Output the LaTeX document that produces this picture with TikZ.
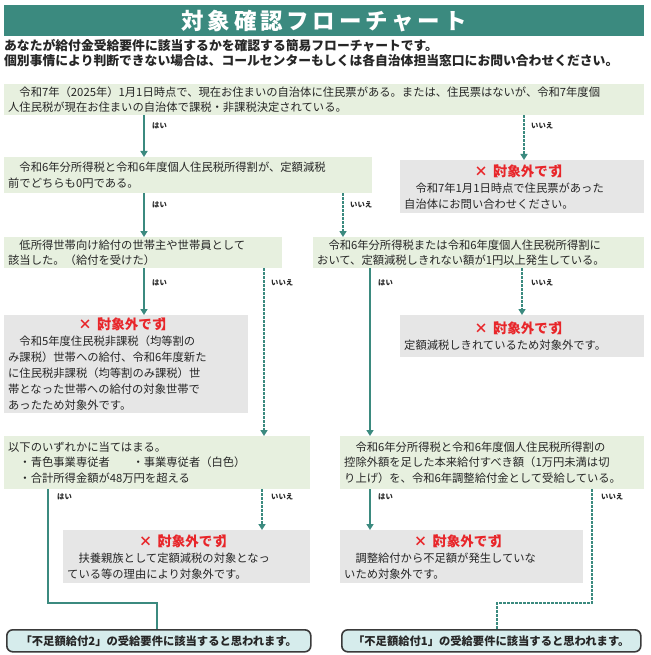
\documentclass[tikz,border=0pt]{standalone}
\usepackage{fontspec}
\setmainfont{Noto Sans CJK JP}
\usetikzlibrary{arrows.meta}
\definecolor{teal1}{HTML}{3B8A7F}
\definecolor{boxg}{HTML}{E7F0DF}
\definecolor{boxgray}{HTML}{E6E6E6}
\definecolor{ngred}{HTML}{E8262A}
\definecolor{endfill}{HTML}{D6ECEC}
\definecolor{endline}{HTML}{3A3A3A}
\newcommand{\ngt}{{\color{ngred}\fontsize{13.5}{17}\selectfont\bfseries ×\kern-0.2em【\kern-0.35em対象外です\kern-0.35em】}}
\begin{document}
\begin{tikzpicture}[x=1pt,y=-1pt,
  every node/.style={font=\fontsize{11.3}{15.2}\selectfont, text=black!85},
  qbox/.style={fill=boxg, anchor=north west, inner xsep=4pt, inner ysep=1pt},
  ngbox/.style={fill=boxgray, anchor=north west, inner xsep=4pt, inner ysep=1pt, font=\fontsize{11.3}{16}\selectfont},
  endbox/.style={fill=endfill, draw=endline, line width=1.6pt, rounded corners=6pt, anchor=north west, font=\fontsize{11.3}{12}\selectfont\bfseries, minimum height=22pt, inner sep=0pt},
  yes/.style={draw=teal1, line width=1.8pt, -{Triangle[width=7pt,length=6pt]}},
  no/.style={draw=teal1, line width=1.8pt, dash pattern=on 2.5pt off 1.5pt, -{Triangle[width=7pt,length=6pt]}},
  lab/.style={font=\fontsize{7.3}{9}\selectfont\bfseries, anchor=west, inner sep=1pt}]
\useasboundingbox (0,0) rectangle (650,655);
\fill[white] (0,0) rectangle (650,655);
% title
\node[fill=teal1, anchor=north west, minimum width=640pt, minimum height=31pt, inner sep=0pt, text=white, font=\fontsize{22.5}{24}\selectfont\bfseries] (title) at (4,5) {対\,象\,確\,認\,フ\,ロ\,ー\,チ\,ャ\,ー\,ト};
\node[anchor=north west, inner sep=0pt, font=\fontsize{12.8}{15.5}\selectfont\bfseries, align=left] (intro) at (4,39) {あなたが給付金受給要件に該当するかを確認する簡易フローチャートです。\\個別事情により判断できない場合は、コールセンターもしくは各自治体担当窓口にお問い合わせください。};
% boxes
\node[qbox, minimum width=640pt, minimum height=31pt, text width=632pt, align=left] (A) at (4,84) {　令和7年（2025年）1月1日時点で、現在お住まいの自治体に住民票がある。または、住民票はないが、令和7年度個\\人住民税が現在お住まいの自治体で課税・非課税決定されている。};
\node[qbox, minimum width=368pt, minimum height=36pt, text width=360pt, align=left] (B) at (4,157) {　令和6年分所得税と令和6年度個人住民税所得割が、定額減税\\前でどちらも0円である。};
\node[ngbox, minimum width=244pt, minimum height=53pt, text width=236pt] (N1) at (400,160) {\centering\ngt\par\raggedright　令和7年1月1日時点で住民票があった\\自治体にお問い合わせください。};
\node[qbox, minimum width=278pt, minimum height=31pt, text width=270pt, align=left] (C) at (4,237) {　低所得世帯向け給付の世帯主や世帯員として\\該当した。（給付を受けた）};
\node[qbox, minimum width=331pt, minimum height=31pt, text width=323pt, align=left] (D) at (313,237) {　令和6年分所得税または令和6年度個人住民税所得割に\\おいて、定額減税しきれない額が1円以上発生している。};
\node[ngbox, minimum width=244pt, minimum height=98pt, text width=236pt] (N2) at (4,315) {\centering\ngt\par\raggedright　令和5年度住民税非課税（均等割の\\み課税）世帯への給付、令和6年度新た\\に住民税非課税（均等割のみ課税）世\\帯となった世帯への給付の対象世帯で\\あったため対象外です。};
\node[ngbox, minimum width=244pt, minimum height=42pt, text width=236pt] (N3) at (400,315) {\centering\ngt\par 定額減税しきれているため対象外です。};
\node[qbox, minimum width=306pt, minimum height=53pt, text width=298pt, align=left] (E) at (4,436) {以下のいずれかに当てはまる。\\　・青色事業専従者　　・事業専従者（白色）\\　・合計所得金額が48万円を超える};
\node[qbox, minimum width=304pt, minimum height=53pt, text width=296pt, align=left] (F) at (340,436) {　令和6年分所得税と令和6年度個人住民税所得割の\\控除外額を足した本来給付すべき額（1万円未満は切\\り上げ）を、令和6年調整給付金として受給している。};
\node[ngbox, minimum width=247pt, minimum height=53pt, text width=239pt] (N4) at (63,530) {\centering\ngt\par\raggedright　扶養親族として定額減税の対象となっ\\ている等の理由により対象外です。};
\node[ngbox, minimum width=243pt, minimum height=53pt, text width=235pt] (N5) at (340,530) {\centering\ngt\par\raggedright　調整給付から不足額が発生していな\\いため対象外です。};
\node[endbox, minimum width=304pt] (G2) at (6,629) {「不足額給付2」の受給要件に該当すると思われます。};
\node[endbox, minimum width=299pt] (G1) at (341,629) {「不足額給付1」の受給要件に該当すると思われます。};
% x guides
\coordinate (x144) at (144,0); \coordinate (x524) at (524,0);
\coordinate (x343) at (343,0); \coordinate (x264) at (264,0);
\coordinate (x370) at (370,0); \coordinate (x522) at (522,0);
\coordinate (x48) at (48,0); \coordinate (x262) at (262,0);
\coordinate (x592) at (592,0);
\coordinate (k1) at (48,603); \coordinate (k2) at (157,603);
\coordinate (k3) at (592,603); \coordinate (k4) at (497,603);
% connectors
\draw[yes] (A.south -| x144) -- (B.north -| x144);
\draw[no] (A.south -| x524) -- (N1.north -| x524);
\draw[yes] (B.south -| x144) -- (C.north -| x144);
\draw[no] (B.south -| x343) -- (D.north -| x343);
\draw[yes] (C.south -| x144) -- (N2.north -| x144);
\draw[no] (C.south -| x264) -- (E.north -| x264);
\draw[yes] (D.south -| x370) -- (F.north -| x370);
\draw[no] (D.south -| x522) -- (N3.north -| x522);
\draw[no] (E.south -| x262) -- (N4.north -| x262);
\draw[yes] (F.south -| x370) -- (N5.north -| x370);
\draw[teal1, line width=2.4pt] (E.south -| x48) -- (k1) -- (k2) -- (G2.north -| k2);
\draw[teal1, line width=2pt, dash pattern=on 2.5pt off 1.5pt] (F.south -| x592) -- (k3) -- (k4) -- (G1.north -| k4);
% labels
\node[lab] (l1) at (151,126) {はい};
\node[lab] (l2) at (530,126) {いいえ};
\node[lab] (l3) at (151,205) {はい};
\node[lab] (l4) at (349,205) {いいえ};
\node[lab] (l5) at (151,283) {はい};
\node[lab] (l6) at (270,283) {いいえ};
\node[lab] (l7) at (377,283) {はい};
\node[lab] (l8) at (530,283) {いいえ};
\node[lab] (l9) at (56,497) {はい};
\node[lab] (l10) at (270,497) {いいえ};
\node[lab] (l11) at (377,497) {はい};
\node[lab] (l12) at (600,497) {いいえ};
\end{tikzpicture}
\end{document}
